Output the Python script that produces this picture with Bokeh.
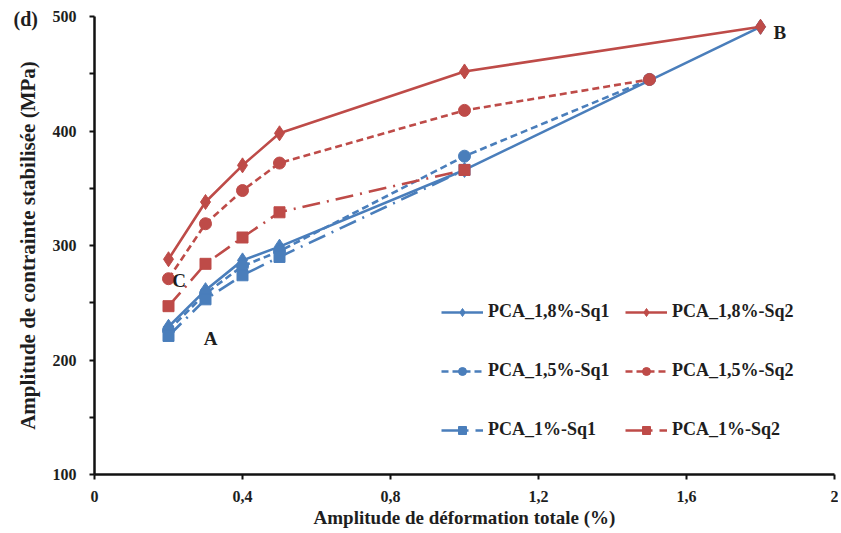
from bokeh.plotting import figure
from bokeh.models import (FixedTicker, CustomJSTickFormatter, Legend, LegendItem, Title)
from bokeh.embed import file_html
from bokeh.resources import INLINE
from bokeh.core.properties import value

# ---- data ----
x_18_sq1 = [0.2, 0.3, 0.4, 0.5, 1.0, 1.8]
y_18_sq1 = [229, 261, 287, 299, 366, 491]
x_15_sq1 = [0.2, 0.3, 0.4, 0.5, 1.0, 1.5]
y_15_sq1 = [226, 258, 282, 295, 378, 445]
x_10_sq1 = [0.2, 0.3, 0.4, 0.5, 1.0]
y_10_sq1 = [221, 253, 274, 290, 366]

x_18_sq2 = [0.2, 0.3, 0.4, 0.5, 1.0, 1.8]
y_18_sq2 = [288, 338, 370, 398, 452, 491]
x_15_sq2 = [0.2, 0.3, 0.4, 0.5, 1.0, 1.5]
y_15_sq2 = [271, 319, 348, 372, 418, 445]
x_10_sq2 = [0.2, 0.3, 0.4, 0.5, 1.0]
y_10_sq2 = [247, 284, 307, 329, 366]

x_ticks = [0, 0.4, 0.8, 1.2, 1.6, 2.0]
y_ticks = [100, 200, 300, 400, 500]
y_minor = [150, 250, 350, 450]

point_labels = ["A", "B", "C"]
point_x = [0.295, 1.835, 0.21]
point_y = [219, 486, 269]

BLUE = "#4A7EBB"
RED = "#BE4B48"
FONT = "Liberation Serif"
TXT = "#1E1E1E"

p = figure(width=838, height=531, output_backend="svg", toolbar_location=None,
           x_range=(0, 2), y_range=(100, 500),
           min_border_left=94, min_border_right=4, min_border_top=16, min_border_bottom=57)
p.outline_line_color = None
p.grid.grid_line_color = None
p.background_fill_color = "white"

# axes
p.xaxis.ticker = FixedTicker(ticks=x_ticks)
p.yaxis.ticker = FixedTicker(ticks=y_ticks, minor_ticks=y_minor)
p.xaxis.formatter = CustomJSTickFormatter(code="return tick.toString().replace('.', ',');")
for ax in (p.xaxis[0], p.yaxis[0]):
    ax.axis_line_width = 2.5
    ax.axis_line_color = "#111111"
    ax.major_tick_line_width = 2
    ax.major_tick_line_color = "#111111"
    ax.major_tick_in = 0
    ax.major_tick_out = 5
    ax.major_label_text_font = FONT
    ax.major_label_text_font_style = "bold"
    ax.major_label_text_font_size = "16px"
    ax.major_label_text_color = TXT
    ax.axis_label_text_font = FONT
    ax.axis_label_text_font_style = "bold"
    ax.axis_label_text_color = TXT
p.xaxis.axis_label_text_font_size = "19px"
p.yaxis.axis_label_text_font_size = "21px"
p.xaxis.minor_tick_line_color = None
p.yaxis.minor_tick_line_width = 2
p.yaxis.minor_tick_line_color = "#111111"
p.yaxis.minor_tick_in = 0
p.yaxis.minor_tick_out = 5
p.xaxis.axis_label = "Amplitude de déformation totale (%)"
p.yaxis.axis_label = "Amplitude de contrainte stabilisée (MPa)"
p.xaxis.major_label_standoff = 11
p.yaxis.major_label_standoff = 13
p.xaxis.axis_label_standoff = 2
p.yaxis.axis_label_standoff = 10

LW = 2.6
series = [
    (x_18_sq1, y_18_sq1, BLUE, "solid", "diamond", 15, "PCA_1,8%-Sq1"),
    (x_15_sq1, y_15_sq1, BLUE, "7 4", "circle", 12, "PCA_1,5%-Sq1"),
    (x_10_sq1, y_10_sq1, BLUE, "18 7 2 7", "square", 11, "PCA_1%-Sq1"),
    (x_18_sq2, y_18_sq2, RED, "solid", "diamond", 15, "PCA_1,8%-Sq2"),
    (x_15_sq2, y_15_sq2, RED, "7 4", "circle", 12, "PCA_1,5%-Sq2"),
    (x_10_sq2, y_10_sq2, RED, "18 7 2 7", "square", 11, "PCA_1%-Sq2"),
]
items = []
for xs, ys, col, dash, mk, sz, name in series:
    l = p.line(xs, ys, line_color=col, line_width=LW, line_dash=dash)
    s = p.scatter(xs, ys, marker=mk, size=sz, fill_color=col, line_color=col)
    items.append(LegendItem(label=name, renderers=[l, s]))

def make_legend(its, x):
    lg = Legend(items=its, location=(x, 34), orientation="vertical",
                glyph_width=42, glyph_height=20, label_height=20, spacing=38,
                label_standoff=5, padding=0, margin=0,
                border_line_color=None, background_fill_alpha=0,
                label_text_font=FONT, label_text_font_style="bold",
                label_text_font_size="18px", label_text_color=TXT)
    return lg

p.add_layout(make_legend(items[:3], 347), "center")
p.add_layout(make_legend(items[3:], 531), "center")

# point labels
p.text(point_x, point_y, text=point_labels, text_font=value(FONT), text_font_style="bold",
       text_font_size="19px", text_color=TXT, text_align="left", text_baseline="middle")

p.add_layout(Title(text="(d)", align="left", offset=-81, standoff=-27,
                   text_font=FONT, text_font_style="bold",
                   text_font_size="20px", text_color=TXT), "above")

open("out.html", "w").write(file_html(p, INLINE))
